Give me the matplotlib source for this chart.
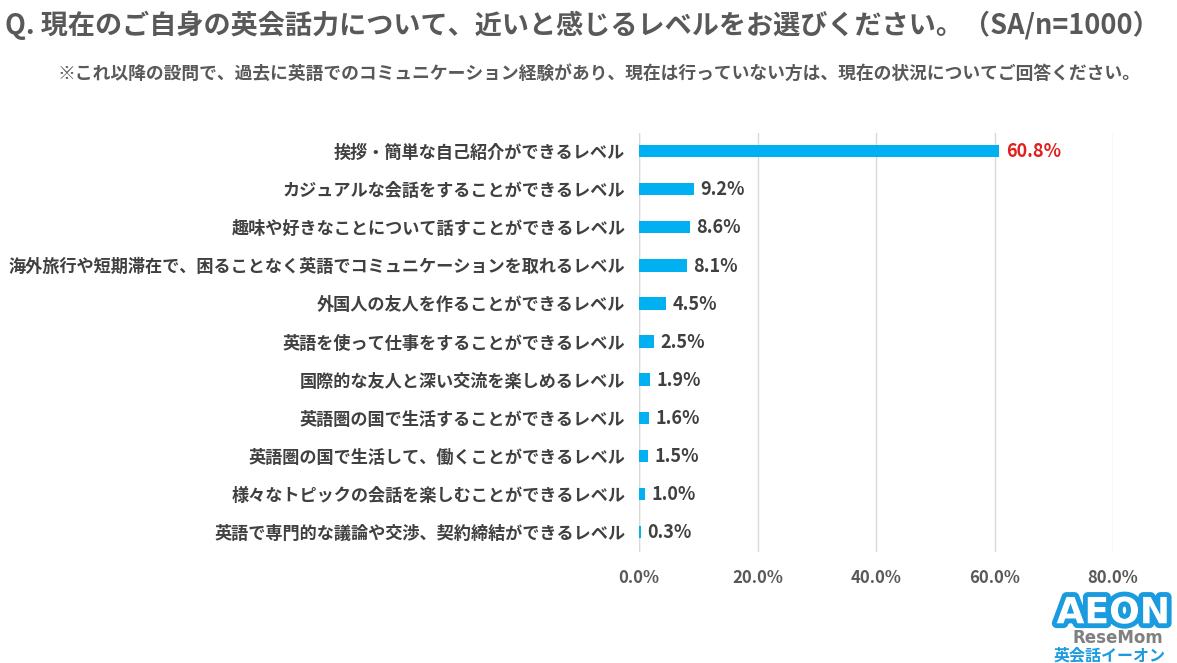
import matplotlib
matplotlib.use("Agg")
import matplotlib.pyplot as plt
import matplotlib.patheffects as pe

plt.rcParams['font.family'] = ['Noto Sans CJK JP', 'DejaVu Sans']

categories = [
    "挨拶・簡単な自己紹介ができるレベル",
    "カジュアルな会話をすることができるレベル",
    "趣味や好きなことについて話すことができるレベル",
    "海外旅行や短期滞在で、困ることなく英語でコミュニケーションを取れるレベル",
    "外国人の友人を作ることができるレベル",
    "英語を使って仕事をすることができるレベル",
    "国際的な友人と深い交流を楽しめるレベル",
    "英語圏の国で生活することができるレベル",
    "英語圏の国で生活して、働くことができるレベル",
    "様々なトピックの会話を楽しむことができるレベル",
    "英語で専門的な議論や交渉、契約締結ができるレベル",
]
values = [60.8, 9.2, 8.6, 8.1, 4.5, 2.5, 1.9, 1.6, 1.5, 1.0, 0.3]
xticks = [0, 20, 40, 60, 80]
xtick_labels = ["0.0%", "20.0%", "40.0%", "60.0%", "80.0%"]

title = "Q. 現在のご自身の英会話力について、近いと感じるレベルをお選びください。（SA/n=1000）"
subtitle = "※これ以降の設問で、過去に英語でのコミュニケーション経験があり、現在は行っていない方は、現在の状況についてご回答ください。"

BAR = "#00B0F0"
TXT = "#404040"
GRAY = "#595959"
RED = "#E0201E"

fig = plt.figure(figsize=(11.77, 6.63), dpi=100)
ax = fig.add_axes([0.543, 0.1674, 0.4027, 0.632])

ypos = list(range(len(categories)))
ax.barh(ypos, values, height=0.33, color=BAR, zorder=3)
ax.set_xlim(0, 80)
ax.set_ylim(len(categories) - 0.48, -0.47)
ax.set_xticks(xticks)
ax.set_xticklabels(xtick_labels)
ax.set_yticks(ypos)
ax.set_yticklabels(categories)
ax.tick_params(axis='x', length=0, pad=12, labelsize=12, labelcolor=GRAY)
ax.tick_params(axis='y', length=0, pad=10, labelsize=12.35, labelcolor=TXT)
for lab in ax.get_xticklabels() + ax.get_yticklabels():
    lab.set_fontweight('bold')
ax.grid(axis='x', color='#D9D9D9', linewidth=1, zorder=0)
for s in ax.spines.values():
    s.set_visible(False)
ax.axvline(0, color='#D9D9D9', linewidth=1, zorder=1)

for i, v in enumerate(values):
    col = RED if i == 0 else TXT
    ax.text(v + 1.1, i + 0.02, f"{v:.1f}%", va='center', ha='left', fontsize=13,
            fontweight='bold', color=col, zorder=4)

fig.text(0.004, 0.962, title, fontsize=19.5, fontweight='bold', color=GRAY,
         ha='left', va='center')
fig.text(0.049, 0.888, subtitle, fontsize=12.8, fontweight='bold', color=GRAY,
         ha='left', va='center')

# logo
fig.text(0.946, 0.075, "AEON", fontsize=26, fontweight='heavy', color='white',
         ha='center', va='center', family=['DejaVu Sans'],
         path_effects=[pe.withStroke(linewidth=7, foreground='#1A9BE0')])
fig.text(0.943, 0.011, "英会話イーオン", fontsize=11.5, fontweight='bold',
         color='#1A9BE0', ha='center', va='center')
fig.text(0.95, 0.037, "ReseMom", fontsize=12, fontweight='bold',
         color='#555555', alpha=0.75, ha='center', va='center',
         family=['DejaVu Sans'])

fig.savefig("out.png", dpi=100, facecolor='white')
